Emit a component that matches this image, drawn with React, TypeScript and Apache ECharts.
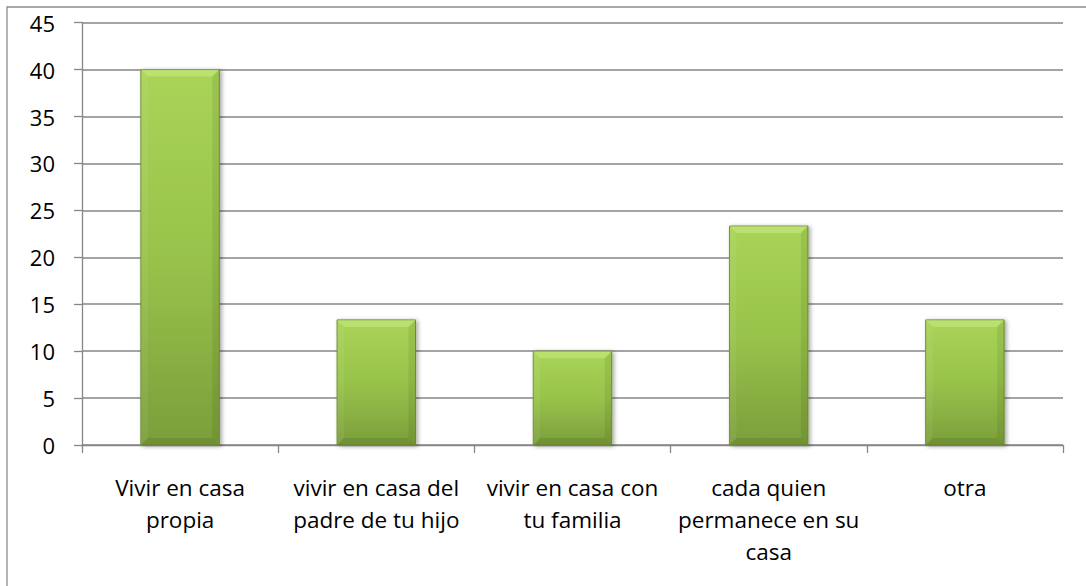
import React, { useEffect, useRef } from "react";
import * as echarts from "echarts";

const categories = [
  "Vivir en casa\npropia",
  "vivir en casa del\npadre de tu hijo",
  "vivir en casa con\ntu familia",
  "cada quien\npermanece en su\ncasa",
  "otra",
];
const values = [40, 13.33, 10, 23.33, 13.33];
const yTicks = { min: 0, max: 45, interval: 5 };

export default function App() {
  const ref = useRef<HTMLDivElement>(null);
  useEffect(() => {
    document.body.style.margin = "0";
    const chart = echarts.init(ref.current!, null, { renderer: "svg" });
    const font = "'Open Sans', Lato, sans-serif";
    const renderItem = (params: any, api: any) => {
      const idx = api.value(0);
      const v = api.value(1);
      const top = api.coord([idx, v]);
      const base = api.coord([idx, 0]);
      const bw = api.size([1, 0])[0] * 0.4;
      const x0 = top[0] - bw / 2;
      const x1 = top[0] + bw / 2;
      const y0 = top[1];
      const y1 = base[1];
      const b = 7;
      return {
        type: "group",
        children: [
          {
            type: "rect",
            shape: { x: x0, y: y0, width: bw, height: y1 - y0 },
            style: {
              fill: {
                type: "linear",
                x: 0,
                y: 0,
                x2: 0,
                y2: 1,
                colorStops: [
                  { offset: 0, color: "#a9d458" },
                  { offset: 0.5, color: "#98c34b" },
                  { offset: 1, color: "#7b9e3b" },
                ],
              },
              stroke: "#6f8f35",
              lineWidth: 1,
              shadowColor: "rgba(0,0,0,0.35)",
              shadowBlur: 4,
              shadowOffsetX: 2,
              shadowOffsetY: 1,
            },
          },
          {
            type: "polygon",
            shape: { points: [[x0, y0], [x1, y0], [x1 - b, y0 + b], [x0 + b, y0 + b]] },
            style: { fill: "rgba(230,255,170,0.3)" },
          },
          {
            type: "polygon",
            shape: { points: [[x0, y1], [x1, y1], [x1 - b, y1 - b], [x0 + b, y1 - b]] },
            style: { fill: "rgba(40,60,10,0.14)" },
          },
          {
            type: "polygon",
            shape: { points: [[x0, y0], [x0 + b, y0 + b], [x0 + b, y1 - b], [x0, y1]] },
            style: { fill: "rgba(255,255,255,0.06)" },
          },
          {
            type: "polygon",
            shape: { points: [[x1, y0], [x1 - b, y0 + b], [x1 - b, y1 - b], [x1, y1]] },
            style: { fill: "rgba(40,60,10,0.1)" },
          },
        ],
      };
    };
    chart.setOption({
      animation: false,
      backgroundColor: "#ffffff",
      grid: { left: 82, right: 23, top: 22.7, bottom: 141, containLabel: false },
      graphic: [
        {
          type: "rect",
          shape: { x: 7, y: 7, width: 1300, height: 800 },
          style: { fill: "none", stroke: "#8c8c8c", lineWidth: 1.3 },
          z: -10,
        },
      ],
      xAxis: {
        type: "category",
        data: categories,
        axisLine: { lineStyle: { color: "#868686", width: 1.3 } },
        axisTick: { show: true, length: 8, lineStyle: { color: "#868686", width: 1.3 } },
        axisLabel: {
          color: "#000",
          fontFamily: font,
          fontSize: 22.5,
          lineHeight: 32,
          margin: 26,
          interval: 0,
        },
      },
      yAxis: {
        type: "value",
        min: yTicks.min,
        max: yTicks.max,
        interval: yTicks.interval,
        axisLine: { show: true, lineStyle: { color: "#868686", width: 1.3 } },
        axisTick: { show: true, length: 8, lineStyle: { color: "#868686", width: 1.3 } },
        splitLine: { lineStyle: { color: "#868686", width: 1.5 } },
        axisLabel: { color: "#000", fontFamily: font, fontSize: 22, margin: 27 },
      },
      series: [
        {
          type: "custom",
          data: values.map((v, i) => [i, v]),
          encode: { x: 0, y: 1 },
          renderItem,
        },
      ],
    });
    return () => chart.dispose();
  }, []);
  return <div ref={ref} style={{ width: 1086, height: 586 }} />;
}
